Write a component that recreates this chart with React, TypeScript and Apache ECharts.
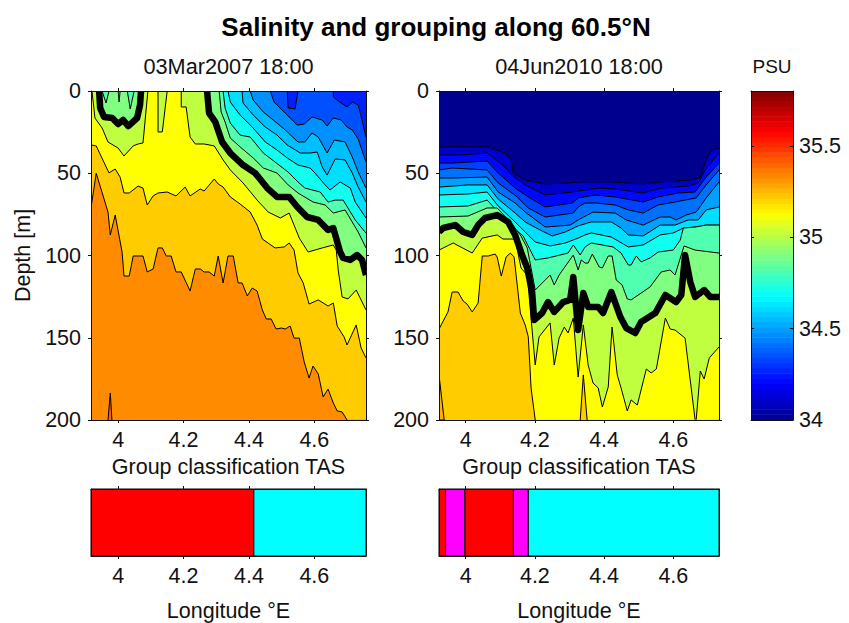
import React, { useEffect, useRef } from "react";
import * as echarts from "echarts";

type P = [number, number];
const FONT = "Liberation Sans";
const INK = "#111111";

const lonRangeA: P = [3.917, 4.758];
const lonRangeB: P = [3.923, 4.732];
const depthRange: P = [0, 200];
const lonTicks = [4, 4.2, 4.4, 4.6];
const depthTicks = [0, 50, 100, 150, 200];
const psuTicks = [34, 34.5, 35, 35.5];
const psuRange: P = [34, 35.8];

// ---- Panel A (03Mar2007): isohaline outlines, [longitude, depth]
const a1: P[] = [[3.917,71],[3.933,50],[3.969,73.6],[3.976,87.5],[3.991,75.4],[4.012,97.9],[4.018,112.5],[4.034,112.5],[4.046,100.3],[4.076,100.3],[4.089,110],[4.107,108.2],[4.122,95.4],[4.135,95.4],[4.147,100.3],[4.162,100.3],[4.177,110],[4.193,110],[4.22,121.6],[4.236,108.2],[4.251,108.2],[4.263,110],[4.278,110],[4.294,112.5],[4.306,100.3],[4.321,116.7],[4.336,100.3],[4.352,100.3],[4.367,116.7],[4.379,116.7],[4.395,124.6],[4.41,119.8],[4.425,121.6],[4.441,133.1],[4.453,138.6],[4.468,138.6],[4.483,144.7],[4.499,144.1],[4.511,144.7],[4.526,142.9],[4.538,150.2],[4.554,150.2],[4.569,164.7],[4.584,174.5],[4.596,167.2],[4.612,172],[4.627,186],[4.642,181.2],[4.658,189.7],[4.67,194.5],[4.685,195.1],[4.7,200]];
const a1Spike: P[] = [[3.969,200],[3.976,183.6],[3.981,200]];
const a2: P[] = [[3.917,32.8],[3.933,33.4],[3.972,49.8],[3.991,47.4],[4.006,52.3],[4.018,62],[4.034,62],[4.061,57.8],[4.076,59],[4.089,69.3],[4.107,63.8],[4.122,62],[4.15,61.4],[4.177,63.8],[4.205,58.4],[4.22,63.8],[4.251,59.6],[4.263,60.8],[4.294,53.5],[4.306,56.5],[4.321,58.4],[4.343,64.4],[4.373,68.7],[4.404,73.6],[4.425,81.5],[4.441,90],[4.48,95.4],[4.508,94.8],[4.523,92.4],[4.538,96.7],[4.55,110.6],[4.566,116.7],[4.584,129.5],[4.612,127],[4.642,130.7],[4.658,128.9],[4.67,142.9],[4.691,149.5],[4.7,154.4],[4.728,142.2],[4.743,156.2],[4.758,162.3]];
const a3: P[] = [[3.92,0],[3.929,16.4],[3.951,22.5],[3.969,31],[4,34.7],[4.018,39.5],[4.046,33.4],[4.061,32.2],[4.076,31.6],[4.091,0],[4.122,0],[4.122,24.9],[4.135,24.9],[4.15,0],[4.193,0],[4.193,9.7],[4.208,9.7],[4.22,28],[4.236,32.2],[4.263,32.2],[4.294,33.4],[4.321,41.9],[4.343,48],[4.382,55.9],[4.425,66.3],[4.459,73.6],[4.496,77.2],[4.523,74.2],[4.554,89.4],[4.581,97.9],[4.624,95.4],[4.658,93.6],[4.667,96.7],[4.673,108.8],[4.685,125.2],[4.703,126.4],[4.728,121],[4.758,133.1]];
const a35Left: P[] = [[3.942,0],[3.945,10.3],[3.957,15.8],[3.982,16.4],[4,20.1],[4.015,17.6],[4.031,21.3],[4.058,16.4],[4.067,8.5],[4.07,0]];
const a35Right: P[] = [[4.272,0],[4.278,13.4],[4.297,18.8],[4.318,31],[4.343,37.7],[4.382,45],[4.419,49.9],[4.456,59],[4.486,64.4],[4.523,64.4],[4.548,70.5],[4.578,76.6],[4.612,78.4],[4.642,84.5],[4.658,83.3],[4.679,97.9],[4.688,101.5],[4.71,102.7],[4.731,99.7],[4.746,102.7],[4.758,111.9]];
const aWedge1: P[] = [[3.951,0],[3.963,7.3],[3.972,0]];
const aWedge2: P[] = [[4,0],[4.003,6.7],[4.006,0]];
const aWedge3: P[] = [[4.028,0],[4.037,10.9],[4.049,0]];
const a5: P[] = [[4.309,0],[4.315,12.8],[4.327,18.8],[4.343,28.6],[4.373,34],[4.413,40.7],[4.444,46.8],[4.486,49.9],[4.52,57.1],[4.55,62],[4.596,67.5],[4.633,69.3],[4.658,74.2],[4.694,72.3],[4.734,85.7],[4.758,95.4]];
const a6: P[] = [[4.321,0],[4.327,10.3],[4.343,19.5],[4.373,26.8],[4.404,28],[4.444,37.7],[4.48,43.2],[4.52,49.3],[4.55,55.3],[4.571,59],[4.618,61.4],[4.642,67.5],[4.664,66.3],[4.688,66.3],[4.725,78.4],[4.758,86.4]];
const a7: P[] = [[4.336,0],[4.343,6.7],[4.373,14.6],[4.41,21.9],[4.45,31],[4.486,35.9],[4.517,40.7],[4.55,45],[4.587,46.8],[4.602,49.9],[4.633,57.1],[4.648,60.2],[4.679,55.3],[4.71,59],[4.725,67.5],[4.758,77.2]];
const a8: P[] = [[4.379,0],[4.382,7.3],[4.413,14.6],[4.45,21.9],[4.486,26.8],[4.517,32.8],[4.557,37.7],[4.587,37.7],[4.609,37.1],[4.624,46.2],[4.639,51.1],[4.664,41.3],[4.694,41.9],[4.716,49.9],[4.734,58.4],[4.758,67.5]];
const a9: P[] = [[4.404,0],[4.413,5.5],[4.444,12.8],[4.486,19.5],[4.511,23.7],[4.55,31],[4.571,31],[4.593,25.5],[4.612,28],[4.639,37.7],[4.661,29.8],[4.694,31],[4.716,40.1],[4.734,49.2],[4.758,59]];
const a10: P[] = [[4.465,0],[4.477,6.7],[4.511,13.4],[4.548,20.7],[4.569,20.1],[4.593,15.8],[4.624,17.6],[4.639,21.3],[4.658,16.4],[4.682,17.6],[4.7,21.9],[4.716,23.7],[4.734,29.2],[4.758,43.2]];
const a11: P[] = [[4.658,0],[4.658,3.6],[4.673,6.1],[4.7,9.7],[4.716,6.7],[4.734,8.5],[4.746,17.6],[4.758,28]];
const aBump: P[] = [[4.517,0],[4.52,10.3],[4.541,10.9],[4.55,0]];

// ---- Panel B (04Jun2010): isohaline outlines, [longitude, depth]
const b1: P[] = [[3.923,34],[4.007,34],[4.065,34],[4.114,37.7],[4.132,41.9],[4.137,49.9],[4.172,54.1],[4.23,56.5],[4.296,55.9],[4.325,55.3],[4.421,55.3],[4.513,56.5],[4.565,55.3],[4.652,54.1],[4.678,52.3],[4.695,41.9],[4.71,35.9],[4.732,34.7]];
const b2: P[] = [[3.923,38.9],[3.99,38.9],[4.062,37.7],[4.108,45],[4.137,51.7],[4.172,57.1],[4.23,63.2],[4.308,61.4],[4.383,59],[4.432,59.6],[4.513,62],[4.565,59],[4.643,57.8],[4.672,55.9],[4.695,46.8],[4.732,37.7]];
const b3: P[] = [[3.923,43.8],[3.961,43.8],[4.062,42.6],[4.094,49.9],[4.143,59],[4.181,64.4],[4.23,70.5],[4.308,68.1],[4.325,65],[4.374,63.2],[4.432,64.4],[4.513,67.5],[4.556,64.4],[4.614,62],[4.663,61.4],[4.695,52.3],[4.732,43.8]];
const b4: P[] = [[3.923,48],[3.961,46.8],[4.062,48],[4.094,55.9],[4.149,64.4],[4.181,71.1],[4.23,76.6],[4.311,74.2],[4.325,70.5],[4.345,68.1],[4.377,68.1],[4.432,69.3],[4.47,72.3],[4.513,74.2],[4.556,69.3],[4.605,67.5],[4.666,65],[4.695,57.1],[4.732,48]];
const b5: P[] = [[3.923,52.9],[3.961,52.9],[4.062,52.3],[4.094,61.4],[4.143,68.1],[4.172,73.6],[4.23,82.7],[4.302,81.5],[4.325,78.4],[4.368,73.6],[4.432,74.2],[4.464,78.4],[4.513,81.5],[4.562,76.6],[4.591,76.6],[4.608,78.4],[4.637,75.4],[4.666,73.6],[4.695,65],[4.732,55.3]];
const b6: P[] = [[3.923,58.4],[4.007,57.1],[4.062,57.1],[4.094,65.7],[4.143,74.2],[4.172,79.6],[4.215,84.5],[4.25,88.1],[4.288,85.7],[4.325,82],[4.363,79.6],[4.421,79.6],[4.449,83.3],[4.47,87.5],[4.513,88.1],[4.562,81.5],[4.605,81.5],[4.643,78.4],[4.672,78.4],[4.695,72.3],[4.732,70.5]];
const b7: P[] = [[3.923,63.2],[4.007,62.6],[4.062,61.4],[4.094,69.9],[4.137,78.4],[4.172,85.7],[4.201,91.8],[4.244,94.2],[4.288,92.4],[4.325,89.4],[4.345,87.5],[4.363,86.3],[4.421,88.8],[4.47,94.8],[4.513,93.6],[4.562,87.5],[4.6,86.3],[4.629,83.3],[4.663,82.7],[4.695,81.5],[4.732,81.5]];
const b8: P[] = [[3.923,70.5],[4.007,69.9],[4.062,66.3],[4.094,73.6],[4.129,81.5],[4.166,88.1],[4.201,102.7],[4.238,101.5],[4.296,98.5],[4.311,93.6],[4.331,99.7],[4.345,94.8],[4.363,92.4],[4.426,94.8],[4.449,98.5],[4.47,105.8],[4.478,105.8],[4.493,100.3],[4.507,103.9],[4.533,101.5],[4.556,97.9],[4.6,96.7],[4.62,90.6],[4.629,83.3],[4.663,82.7],[4.695,81.5],[4.732,81.5]];
const b9: P[] = [[3.923,76.6],[4.007,76],[4.062,71.1],[4.091,71.1],[4.129,79.6],[4.158,87.5],[4.178,95.4],[4.201,121],[4.244,111.9],[4.256,117.9],[4.27,111.9],[4.311,99.7],[4.325,108.8],[4.334,102.7],[4.345,104.6],[4.354,104.6],[4.366,99.1],[4.386,107],[4.395,107.6],[4.412,100.3],[4.423,100.3],[4.435,114.9],[4.452,117.9],[4.467,126.4],[4.478,127],[4.533,119.1],[4.565,110],[4.591,108.8],[4.605,111.9],[4.631,94.2],[4.663,96.7],[4.732,98.5]];
const b35: P[] = [[3.923,85.7],[3.935,83.3],[3.97,81.5],[3.993,85.7],[4.019,87.5],[4.036,81.5],[4.056,77.2],[4.091,75.4],[4.123,79.6],[4.143,87.5],[4.163,99.7],[4.178,107.6],[4.192,122.2],[4.198,139.2],[4.221,135],[4.238,128.3],[4.256,134.3],[4.282,128.3],[4.302,127],[4.311,113.1],[4.325,145.3],[4.34,122.8],[4.354,131.3],[4.383,131.3],[4.397,135],[4.421,122.2],[4.447,137.4],[4.464,144.1],[4.49,147.1],[4.507,140.4],[4.548,135],[4.577,124],[4.608,128.3],[4.623,124],[4.634,99.7],[4.649,116.1],[4.663,125.2],[4.689,121],[4.707,125.2],[4.732,125.2]];
const b11: P[] = [[3.923,96.7],[3.964,92.4],[4.019,98.5],[4.048,89.4],[4.091,87.5],[4.108,90],[4.143,90],[4.16,107.6],[4.178,111.9],[4.201,166.6],[4.212,149.5],[4.244,141],[4.256,166.6],[4.27,150.2],[4.285,143.5],[4.296,147.1],[4.311,138],[4.325,173.9],[4.34,142.2],[4.354,166.6],[4.368,177.5],[4.383,180.5],[4.395,192.1],[4.412,179.9],[4.423,143.5],[4.438,172.6],[4.449,180.5],[4.467,194.5],[4.478,187.8],[4.496,190.9],[4.522,169],[4.536,171.4],[4.551,169],[4.577,138],[4.591,144.7],[4.605,145.3],[4.634,150.2],[4.663,200],[4.666,200],[4.678,170.2],[4.689,175.1],[4.704,162.3],[4.732,155.6]];
const b12: P[] = [[3.923,144.7],[3.949,134.3],[3.961,122.2],[3.978,122.2],[3.993,127.7],[4.004,129.5],[4.019,134.3],[4.036,128.9],[4.048,100.3],[4.065,100.3],[4.085,99.1],[4.091,100.9],[4.103,112.5],[4.117,100.9],[4.129,98.5],[4.14,100.9],[4.158,135],[4.172,142.2],[4.181,149.5],[4.189,180.5],[4.201,200]];
const bWedge1: P[] = [[4.331,200],[4.34,172.6],[4.351,200]];
const bWedge2: P[] = [[3.923,172.6],[3.938,200],[3.923,200]];

// ---- Group classification strips
const groupEdgesA = [3.917, 4.415, 4.758];
const groupNamesA = ["red", "cyan"];
const groupEdgesB = [3.923, 3.942, 3.998, 4.138, 4.181, 4.732];
const groupNamesB = ["red", "magenta", "red", "magenta", "cyan"];
const groupColors: Record<string, string> = { red: "#FF0000", magenta: "#FF00FF", cyan: "#00FFFF" };

// ---- Colour bands
const jetStops = ["#00008F", "#0000FF", "#00FFFF", "#FFFF00", "#FF0000", "#800000"];
const jetPos = [0, 0.111, 0.375, 0.625, 0.875, 1];
const CB_STEPS = 64;

type Layer = { pts: P[]; fill?: string; line?: number; closed?: boolean };
const C = {
  c0: "#0020FF", c1: "#0050FF", c2: "#0090FF", c3: "#00BFFF", c4: "#00DFFF", c5: "#10FFEF",
  c6: "#50FFB0", c7: "#80FF80", c8: "#BFFF40", c9: "#FFFF00", c10: "#FFCC00", c11: "#FF8C00", c12: "#FF6000",
};

const frameOf = (r: P): P[] => [[r[0], 0], [r[1], 0], [r[1], 200], [r[0], 200]];

const layersA: Layer[] = [
  { pts: frameOf(lonRangeA), fill: C.c0, closed: true },
  { pts: a11, fill: C.c1, line: 1 },
  { pts: aBump, fill: C.c0, line: 1, closed: true },
  { pts: a10, fill: C.c2, line: 1 },
  { pts: a9, fill: C.c3, line: 1 },
  { pts: a8, fill: C.c4, line: 1 },
  { pts: a7, fill: C.c5, line: 1 },
  { pts: a6, fill: C.c6, line: 1 },
  { pts: a5, fill: C.c7, line: 1 },
  { pts: a35Right, fill: C.c8 },
  { pts: a35Left, fill: C.c7, closed: true },
  { pts: aWedge1, fill: C.c6, line: 1, closed: true },
  { pts: aWedge2, fill: C.c6, line: 1, closed: true },
  { pts: aWedge3, fill: C.c6, line: 1, closed: true },
  { pts: a3, fill: C.c9, line: 1 },
  { pts: a2, fill: C.c10, line: 1 },
  { pts: a1, fill: C.c11, line: 1 },
  { pts: a1Spike, fill: C.c12, line: 1, closed: true },
  { pts: a35Left, line: 6.5 },
  { pts: a35Right, line: 6.5 },
];

const layersB: Layer[] = [
  { pts: frameOf(lonRangeB), fill: "#00008F", closed: true },
  { pts: b1, fill: "#0000CC", line: 1 },
  { pts: b2, fill: "#0008FF", line: 1 },
  { pts: b3, fill: "#0040FF", line: 1 },
  { pts: b4, fill: "#0070FF", line: 1 },
  { pts: b5, fill: "#00A0FF", line: 1 },
  { pts: b6, fill: C.c4, line: 1 },
  { pts: b7, fill: C.c5, line: 1 },
  { pts: b8, fill: C.c6, line: 1 },
  { pts: b9, fill: C.c7, line: 1 },
  { pts: b35, fill: C.c8 },
  { pts: b11, fill: C.c9, line: 1 },
  { pts: b12, fill: C.c10, line: 1 },
  { pts: bWedge1, fill: C.c10, line: 1, closed: true },
  { pts: bWedge2, fill: "#FFB000", line: 1, closed: true },
  { pts: b35, line: 6.5 },
];

function contourSeries(layers: Layer[], range: P, axis: number) {
  return {
    type: "custom",
    xAxisIndex: axis,
    yAxisIndex: axis,
    clip: true,
    silent: true,
    data: layers.map((l) => [l.pts[0][0], l.pts[0][1]]),
    encode: { x: 0, y: 1 },
    renderItem: (params: any, api: any) => {
      const l = layers[params.dataIndex];
      const children: any[] = [];
      const line = l.pts.map((p) => api.coord(p));
      if (l.fill) {
        const closing: P[] = l.closed ? [] : [[range[1], depthRange[1]], [range[0], depthRange[1]], [range[0], depthRange[0]]];
        children.push({
          type: "polygon",
          shape: { points: line.concat(closing.map((p) => api.coord(p))) },
          style: { fill: l.fill, stroke: l.fill, lineWidth: 0.4 },
        });
      }
      if (l.line) {
        children.push({
          type: "polyline",
          shape: { points: line },
          style: { fill: null, stroke: "#000000", lineWidth: l.line, lineJoin: "round" },
        });
      }
      return { type: "group", children };
    },
  };
}

function groupSeries(edges: number[], names: string[], axis: number) {
  return {
    type: "custom",
    xAxisIndex: axis,
    yAxisIndex: axis,
    silent: true,
    data: names.map((_, i) => [edges[i], edges[i + 1]]),
    encode: { x: [0, 1] },
    renderItem: (params: any, api: any) => {
      const i = params.dataIndex;
      const a = api.coord([edges[i], 1]);
      const b = api.coord([edges[i + 1], 0]);
      return {
        type: "rect",
        shape: { x: a[0], y: a[1], width: b[0] - a[0], height: b[1] - a[1] },
        style: { fill: groupColors[names[i]], stroke: "#000000", lineWidth: 1 },
      };
    },
  };
}

function jetAt(t: number): string {
  let k = 0;
  while (k < jetPos.length - 2 && t > jetPos[k + 1]) k++;
  const f = (t - jetPos[k]) / (jetPos[k + 1] - jetPos[k]);
  const ch = (h: string, o: number) => parseInt(h.slice(o, o + 2), 16);
  const mix = (o: number) => Math.round(ch(jetStops[k], o) + (ch(jetStops[k + 1], o) - ch(jetStops[k], o)) * f);
  return `rgb(${mix(1)},${mix(3)},${mix(5)})`;
}

function colorbarSeries(axis: number) {
  const idx = Array.from({ length: CB_STEPS }, (_, i) => i);
  const step = (psuRange[1] - psuRange[0]) / CB_STEPS;
  return {
    type: "custom",
    xAxisIndex: axis,
    yAxisIndex: axis,
    clip: true,
    silent: true,
    data: idx.map((i) => [0.5, psuRange[0] + i * step]),
    encode: { x: 0, y: 1 },
    renderItem: (params: any, api: any) => {
      const i = params.dataIndex;
      const a = api.coord([0, psuRange[0] + (i + 1) * step]);
      const b = api.coord([1, psuRange[0] + i * step]);
      const col = jetAt((i + 0.5) / CB_STEPS);
      return {
        type: "rect",
        shape: { x: a[0], y: a[1] - 0.5, width: b[0] - a[0], height: b[1] - a[1] + 0.5 },
        style: { fill: col },
      };
    },
  };
}

const lineStyle = { color: INK, width: 1 };
const labelStyle = { fontFamily: FONT, fontSize: 21.5, color: INK };

function lonAxes(grid: number, range: P, bottomName: string, gap: number, topName?: string) {
  const base = {
    type: "value", gridIndex: grid, min: range[0], max: range[1], z: 10,
    axisLine: { show: true, onZero: false, lineStyle },
    axisTick: { show: true, length: 3, lineStyle, customValues: lonTicks },
    splitLine: { show: false },
  };
  return [
    {
      ...base, position: "bottom", name: bottomName, nameLocation: "middle", nameGap: gap,
      nameTextStyle: labelStyle,
      axisLabel: { show: true, margin: 9, customValues: lonTicks, ...labelStyle },
    },
    {
      ...base, position: "top", axisLabel: { show: false },
      ...(topName ? { name: topName, nameLocation: "middle", nameGap: 14, nameTextStyle: { ...labelStyle, fontSize: 21.7 } } : {}),
    },
  ];
}

function depthAxes(grid: number, name?: string) {
  const base = {
    type: "value", gridIndex: grid, min: depthRange[0], max: depthRange[1], interval: 50, inverse: true, z: 10,
    axisLine: { show: true, onZero: false, lineStyle },
    axisTick: { show: true, length: 3, lineStyle, customValues: depthTicks },
    splitLine: { show: false },
  };
  return [
    {
      ...base, position: "left",
      axisLabel: { show: true, margin: 10, customValues: depthTicks, ...labelStyle },
      ...(name ? { name, nameLocation: "middle", nameGap: 57, nameTextStyle: labelStyle } : {}),
    },
    { ...base, position: "right", axisLabel: { show: false } },
  ];
}

function plainY(grid: number) {
  const base = {
    type: "value", gridIndex: grid, min: 0, max: 1, z: 10,
    axisLine: { show: true, onZero: false, lineStyle },
    axisTick: { show: false }, axisLabel: { show: false }, splitLine: { show: false },
  };
  return [{ ...base, position: "left" }, { ...base, position: "right" }];
}

function cbarX(grid: number) {
  const base = {
    type: "value", gridIndex: grid, min: 0, max: 1, z: 10,
    axisLine: { show: true, onZero: false, lineStyle },
    axisTick: { show: false }, axisLabel: { show: false }, splitLine: { show: false },
  };
  return [
    { ...base, position: "bottom" },
    { ...base, position: "top", name: "PSU", nameLocation: "middle", nameGap: 15, nameTextStyle: { fontFamily: FONT, fontSize: 19, color: INK } },
  ];
}

function cbarY(grid: number) {
  const base = {
    type: "value", gridIndex: grid, min: psuRange[0], max: psuRange[1], z: 10,
    axisLine: { show: true, onZero: false, lineStyle },
    axisTick: { show: true, inside: true, length: 3, lineStyle, customValues: psuTicks },
    splitLine: { show: false },
  };
  return [
    { ...base, position: "left", axisLabel: { show: false } },
    { ...base, position: "right", axisLabel: { show: true, margin: 6, customValues: psuTicks, ...labelStyle } },
  ];
}

export default function App() {
  const ref = useRef<HTMLDivElement>(null);
  useEffect(() => {
    if (!ref.current) return;
    const chart = echarts.init(ref.current, undefined, { renderer: "svg" });
    chart.setOption({
      animation: false,
      backgroundColor: "#ffffff",
      textStyle: { fontFamily: FONT },
      title: {
        text: "Salinity and grouping along 60.5°N",
        left: 431,
        top: 9,
        textAlign: "center",
        textStyle: { fontFamily: FONT, fontSize: 26, fontWeight: "bold", color: "#000" },
      },
      grid: [
        { left: 91, top: 91, width: 275, height: 329 },
        { left: 439, top: 91, width: 280, height: 329 },
        { left: 91, top: 489, width: 275, height: 68 },
        { left: 439, top: 489, width: 280, height: 68 },
        { left: 751, top: 91, width: 42, height: 329 },
      ],
      xAxis: [
        ...lonAxes(0, lonRangeA, "Group classification TAS", 33, "03Mar2007 18:00"),
        ...lonAxes(1, lonRangeB, "Group classification TAS", 33, "04Jun2010 18:00"),
        ...lonAxes(2, lonRangeA, "Longitude °E", 44),
        ...lonAxes(3, lonRangeB, "Longitude °E", 44),
        ...cbarX(4),
      ],
      yAxis: [
        ...depthAxes(0, "Depth [m]"),
        ...depthAxes(1),
        ...plainY(2),
        ...plainY(3),
        ...cbarY(4),
      ],
      series: [
        contourSeries(layersA, lonRangeA, 0),
        contourSeries(layersB, lonRangeB, 2),
        groupSeries(groupEdgesA, groupNamesA, 4),
        groupSeries(groupEdgesB, groupNamesB, 6),
        colorbarSeries(8),
      ],
    });
    return () => chart.dispose();
  }, []);
  return <div ref={ref} style={{ position: "fixed", left: 0, top: 0, width: 849, height: 623 }} />;
}
